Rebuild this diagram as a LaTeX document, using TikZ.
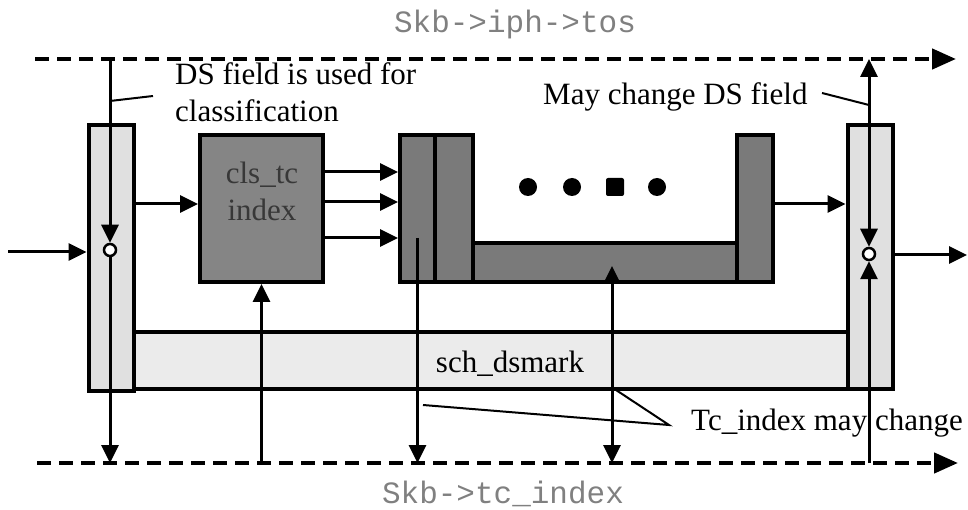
\documentclass[tikz,border=0pt]{standalone}
\usepackage{fontspec}
\setmainfont{Liberation Serif}
\setmonofont{Liberation Mono}
\usetikzlibrary{arrows.meta}

\begin{document}
\begin{tikzpicture}[x=1pt, y=-1pt, >={Triangle[length=18pt,width=17pt]},
  every node/.style={font=\fontsize{31}{37}\selectfont, inner sep=0pt},
  bus/.style={line width=4.5pt, dash pattern=on 14pt off 8pt, -{Triangle[length=24pt,width=20pt]}},
  flow/.style={->, line width=3pt},
  lead/.style={line width=2pt},
  blk/.style={draw, line width=4pt},
  lightblk/.style={blk, fill=black!12},
  darkblk/.style={blk, fill=black!52},
  jn/.style={circle, draw, line width=2.5pt, fill=white, minimum size=12pt},
  reg/.style={font=\ttfamily\fontsize{31}{37}\selectfont, text=black!50}]
  \useasboundingbox (0,0) rectangle (968,510);

  % skb fields (dashed buses)
  \coordinate (tosL) at (35,59);
  \coordinate (tosR) at (956,59);
  \coordinate (tcL) at (37,463);
  \coordinate (tcR) at (958,463);
  \draw[bus] (tosL) -- (tosR);
  \draw[bus] (tcL) -- (tcR);
  \node[reg, anchor=base] (toslbl) at (515,33) {Skb->iph->tos};
  \node[reg, anchor=base] (tclbl) at (503,503) {Skb->tc\_index};

  % sch_dsmark wrapper
  \node[lightblk, fill=black!8, minimum width=714pt, minimum height=57pt] (strip) at (491,360.5) {};
  \node[anchor=base] (marklbl) at (510,372) {sch\_dsmark};
  \node[lightblk, minimum width=45pt, minimum height=265pt] (inbar) at (111,258) {};
  \node[lightblk, minimum width=45pt, minimum height=263pt] (outbar) at (870,257) {};
  \node[jn] (swin) at (110,250) {};
  \node[jn] (swout) at (869,254) {};

  % classifier
  \node[darkblk, fill=black!48, minimum width=123pt, minimum height=147pt] (cls) at (261.5,208.5) {};
  \node[align=center, text=black!78] (clslbl) at (262,191) {cls\_tc\\index};

  % inner queue
  \node[darkblk, minimum width=264pt, minimum height=39pt] (trough) at (605,262.5) {};
  \node[darkblk, minimum width=35pt, minimum height=147pt] (q1) at (417.5,208.5) {};
  \node[darkblk, minimum width=38pt, minimum height=147pt] (q2) at (454,208.5) {};
  \node[darkblk, minimum width=36pt, minimum height=147pt] (qn) at (755,208.5) {};
  \foreach \x in {528,572,657}
    \fill (\x,187) circle (9pt);
  \fill[rounded corners=2pt] (606,178) rectangle (624,196);

  % packet path
  \coordinate (in) at (8,252);
  \coordinate (out) at (967,255);
  \draw[flow] (in) -- (inbar.west |- in);
  \draw[flow] (inbar.east |- 0,204) -- (cls.west |- 0,204);
  \foreach \y in {172,202,238}
    \draw[flow] (cls.east |- 0,\y) -- (q1.west |- 0,\y);
  \draw[flow] (qn.east |- 0,204) -- (outbar.west |- 0,204);
  \draw[flow] (outbar.east |- out) -- (out);

  % field access
  \draw[flow] (swin |- tosL) -- (swin.north);
  \draw[flow] (swin.south) -- (swin |- tcL);
  \draw[flow] (cls.south |- tcL) -- (cls.south);
  \draw[flow] (q1.center |- 0,238) -- (q1 |- tcL);
  \coordinate (tcread) at (612,266);
  \draw[flow, <->] (tcread) -- (tcread |- tcL);
  \draw[flow, <->] (swout.north) -- (swout |- tosL);
  \draw[flow] (swout |- tcL) -- (swout.south);

  % notes
  \node[anchor=base west, align=left] (clsnote) at (175,122) {DS field is used for\\classification};
  \coordinate (clsleadA) at (153,96);
  \draw[lead] (clsleadA) -- (swin |- 0,101);
  \node[anchor=base west] (marknote) at (543,105) {May change DS field};
  \coordinate (markleadA) at (822,93);
  \draw[lead] (markleadA) -- (swout |- 0,105);
  \node[anchor=base west] (tcnote) at (691,430) {Tc\_index may change};
  \coordinate (tcapex) at (669,425);
  \draw[lead] (423,405) -- (tcapex) -- (616,390);
\end{tikzpicture}
\end{document}
